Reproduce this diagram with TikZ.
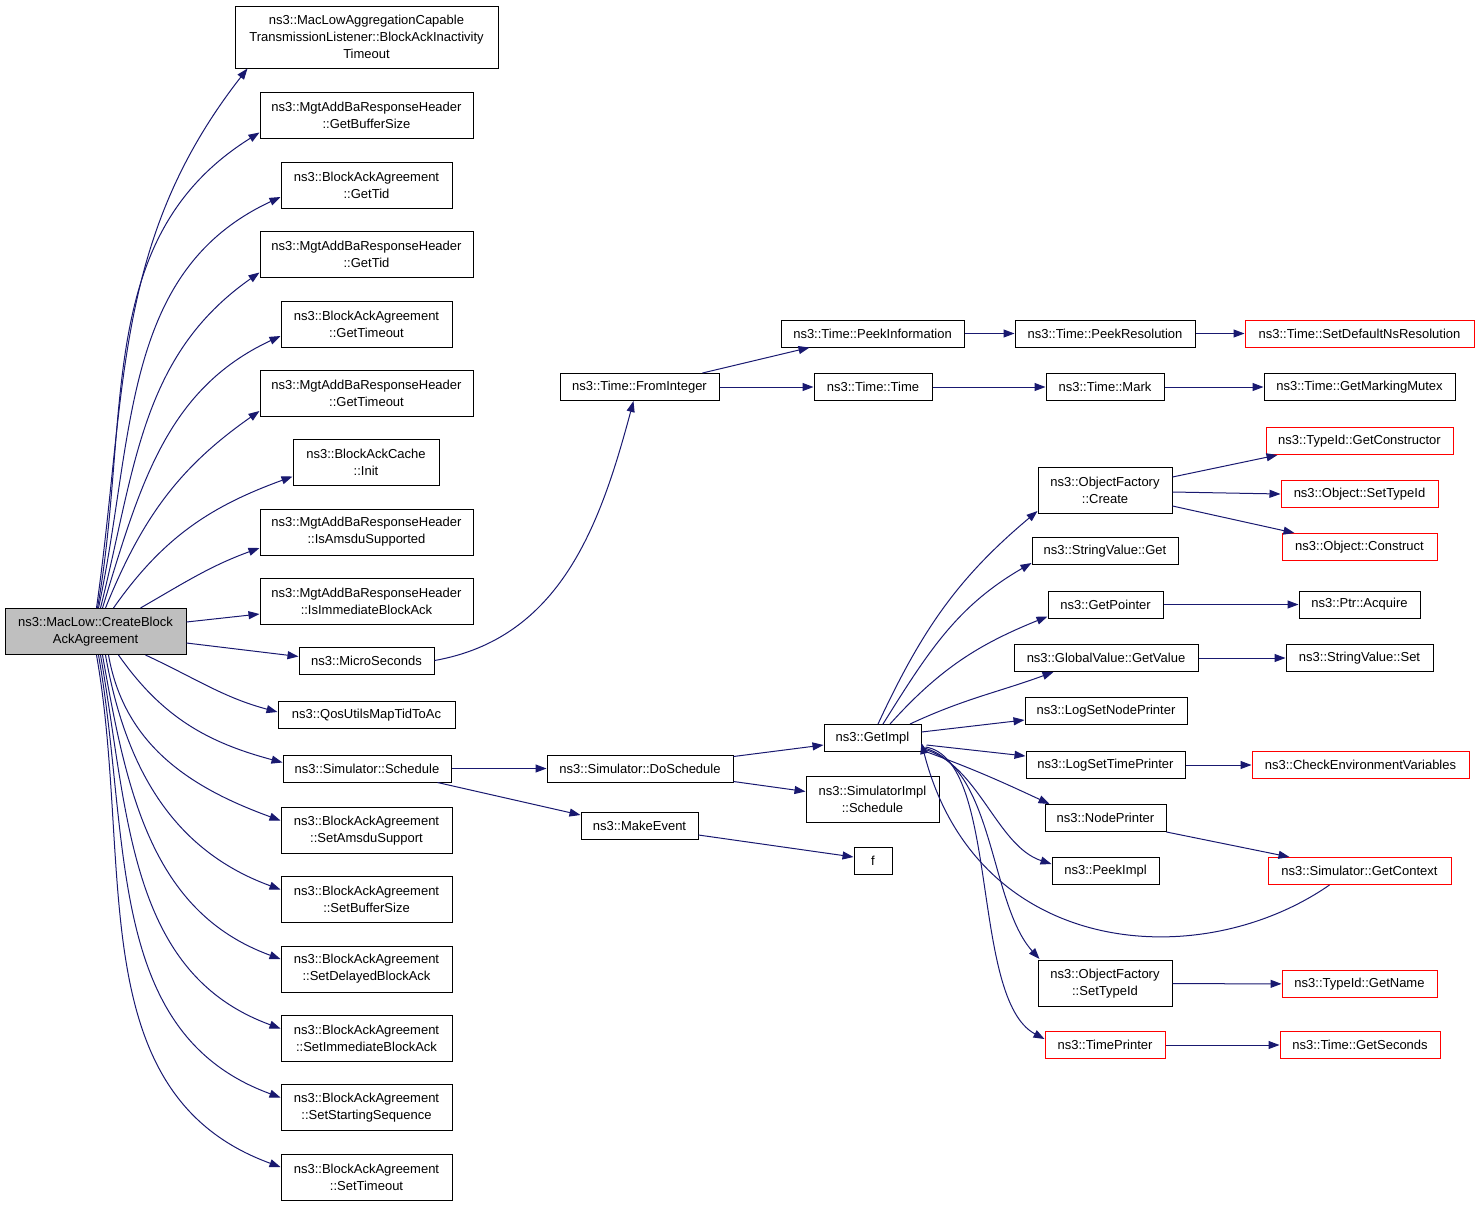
\documentclass[tikz,border=0pt]{standalone}
\usepackage{fontspec}
\setmainfont{Liberation Sans}
\usetikzlibrary{arrows.meta,calc}
\definecolor{callblue}{RGB}{25,25,112}
\definecolor{rootgray}{RGB}{191,191,191}
\tikzset{
  fn-box/.style={
    draw=black,
    fill=white,
    line width=1pt,
    rectangle,
    inner sep=0pt,
    align=center,
    minimum height=27pt,
    font=\fontsize{13}{17}\selectfont
  },
  fn-red/.style={fn-box, draw=red},
  fn-root/.style={fn-box, fill=rootgray},
  wd/.style={minimum width=#1pt},
  two/.style={minimum height=46pt},
  three/.style={minimum height=62pt},
  call/.style={draw=callblue, line width=1pt, -{Triangle[length=11pt,width=8pt]}}
}

\begin{document}
\begin{tikzpicture}[x=1pt,y=-1pt]
  \useasboundingbox (0,0) rectangle (1480,1205);

  % --- Caller ---
  \node[fn-root, wd=181, two] (root) at (95.5,631.5) {ns3::MacLow::CreateBlock\\AckAgreement};

  % --- Direct callees ---
  \node[fn-box, wd=263, three] (macl) at (366.5,37) {ns3::MacLowAggregationCapable\\TransmissionListener::BlockAckInactivity\\Timeout};
  \node[fn-box, wd=213, two] (gbs) at (366.5,115.5) {ns3::MgtAddBaResponseHeader\\::GetBufferSize};
  \node[fn-box, wd=171, two] (gtid) at (366.5,185) {ns3::BlockAckAgreement\\::GetTid};
  \node[fn-box, wd=213, two] (mgtid) at (366.5,254.5) {ns3::MgtAddBaResponseHeader\\::GetTid};
  \node[fn-box, wd=171, two] (gto) at (366.5,324) {ns3::BlockAckAgreement\\::GetTimeout};
  \node[fn-box, wd=213, two] (mgto) at (366.5,393) {ns3::MgtAddBaResponseHeader\\::GetTimeout};
  \node[fn-box, wd=146, two] (init) at (366,462.5) {ns3::BlockAckCache\\::Init};
  \node[fn-box, wd=213, two] (amsdu) at (366.5,532) {ns3::MgtAddBaResponseHeader\\::IsAmsduSupported};
  \node[fn-box, wd=213, two] (immed) at (366.5,601) {ns3::MgtAddBaResponseHeader\\::IsImmediateBlockAck};
  \node[fn-box, wd=135] (micro) at (366.5,660.5) {ns3::MicroSeconds};
  \node[fn-box, wd=177] (qos) at (366.5,715) {ns3::QosUtilsMapTidToAc};
  \node[fn-box, wd=168] (sched) at (367,768.5) {ns3::Simulator::Schedule};

  % setters of the agreement, one under the other
  \foreach \nm/\yy/\txt/\sh in {setamsdu/830.5/SetAmsduSupport/13, setbuf/899.5/SetBufferSize/10,
      setdelay/969/SetDelayedBlockAck/7, setimm/1038.5/SetImmediateBlockAck/5,
      setstart/1107.5/SetStartingSequence/3, setto/1177/SetTimeout/1} {
    \node[fn-box, wd=171, two] (\nm) at (366.5,\yy) {ns3::BlockAckAgreement\\::\txt};
    \draw[call] ($(root.south)+(\sh,0)$) to[out=-80,in=160] ($(\nm.west)+(0,-10)$);
  }

  % --- Second level ---
  \node[fn-box, wd=159] (fromint) at (639.5,387) {ns3::Time::FromInteger};
  \node[fn-box, wd=186] (dosched) at (640,768.5) {ns3::Simulator::DoSchedule};
  \node[fn-box, wd=117] (makeev) at (639.5,826) {ns3::MakeEvent};

  \node[fn-box, wd=183] (peekinfo) at (872.5,333.5) {ns3::Time::PeekInformation};
  \node[fn-box, wd=118] (timetime) at (873,387) {ns3::Time::Time};
  \node[fn-box, wd=97] (getimpl) at (872.5,738) {ns3::GetImpl};
  \node[fn-box, wd=133, two] (simimpl) at (872.5,799.5) {ns3::SimulatorImpl\\::Schedule};
  \node[fn-box, wd=38] (f) at (873,861) {f};

  % --- Third level ---
  \node[fn-box, wd=180] (peekres) at (1105,333.5) {ns3::Time::PeekResolution};
  \node[fn-box, wd=118] (mark) at (1105,387) {ns3::Time::Mark};
  \node[fn-box, wd=134, two] (ofcreate) at (1105,490) {ns3::ObjectFactory\\::Create};
  \node[fn-box, wd=146] (svget) at (1105,551) {ns3::StringValue::Get};
  \node[fn-box, wd=115] (getptr) at (1105.5,604.5) {ns3::GetPointer};
  \node[fn-box, wd=184] (gvget) at (1106,658) {ns3::GlobalValue::GetValue};
  \node[fn-box, wd=162] (lsnp) at (1106,711) {ns3::LogSetNodePrinter};
  \node[fn-box, wd=159] (lstp) at (1105.5,765) {ns3::LogSetTimePrinter};
  \node[fn-box, wd=121] (nodepr) at (1105.5,818) {ns3::NodePrinter};
  \node[fn-box, wd=107] (peekimpl) at (1105.5,871) {ns3::PeekImpl};
  \node[fn-box, wd=134, two] (ofsettid) at (1105,983.5) {ns3::ObjectFactory\\::SetTypeId};
  \node[fn-red, wd=120] (timepr) at (1105,1045) {ns3::TimePrinter};

  % --- Fourth level ---
  \node[fn-red, wd=229] (setdef) at (1359.5,333.5) {ns3::Time::SetDefaultNsResolution};
  \node[fn-box, wd=191] (mutex) at (1359.5,387) {ns3::Time::GetMarkingMutex};
  \node[fn-red, wd=187] (getctor) at (1359.5,441) {ns3::TypeId::GetConstructor};
  \node[fn-red, wd=157] (objsettid) at (1359.5,494) {ns3::Object::SetTypeId};
  \node[fn-red, wd=155] (objcons) at (1359.5,547) {ns3::Object::Construct};
  \node[fn-box, wd=121] (acquire) at (1359.5,604.5) {ns3::Ptr::Acquire};
  \node[fn-box, wd=147] (svset) at (1359.5,658) {ns3::StringValue::Set};
  \node[fn-red, wd=217] (checkenv) at (1360.5,765) {ns3::CheckEnvironmentVariables};
  \node[fn-red, wd=183] (getctx) at (1359.5,871) {ns3::Simulator::GetContext};
  \node[fn-red, wd=155] (getname) at (1359.5,984) {ns3::TypeId::GetName};
  \node[fn-red, wd=160] (getsec) at (1360,1045) {ns3::Time::GetSeconds};

  % --- Calls from the caller ---
  \draw[call] ($(root.north)+(1,0)$) to[out=82,in=232] ($(macl.south west)+(13,0)$);
  \draw[call] ($(root.north)+(2,0)$) to[out=80,in=212] ($(gbs.west)+(0,17)$);
  \draw[call] ($(root.north)+(3,0)$) to[out=78,in=205] ($(gtid.west)+(0,12)$);
  \draw[call] ($(root.north)+(5,0)$) to[out=76,in=215] ($(mgtid.west)+(0,18)$);
  \draw[call] ($(root.north)+(7,0)$) to[out=73,in=205] ($(gto.west)+(0,12)$);
  \draw[call] ($(root.north)+(10,0)$) to[out=68,in=215] ($(mgto.west)+(0,18)$);
  \draw[call] ($(root.north)+(18,0)$) to[out=55,in=200] ($(init.west)+(0,14)$);
  \draw[call] ($(root.north)+(45,0)$) to[out=30,in=200] ($(amsdu.west)+(0,16)$);
  \draw[call] ($(root.east)+(0,-9.5)$) -- ($(immed.west)+(0,13)$);
  \draw[call] ($(root.east)+(0,11.5)$) -- ($(micro.west)+(0,-4)$);
  \draw[call] ($(root.south)+(50,0)$) to[out=-25,in=165] ($(qos.west)+(0,-3)$);
  \draw[call] ($(root.south)+(23,0)$) to[out=-55,in=165] ($(sched.west)+(0,-6)$);

  % --- Time ---
  \draw[call] (micro.east) to[out=10,in=-105] ($(fromint.south)+(-6,0)$);
  \draw[call] ($(fromint.north)+(63,0)$) -- ($(peekinfo.south west)+(29,0)$);
  \draw[call] (fromint) -- (timetime);
  \draw[call] (peekinfo) -- (peekres);
  \draw[call] (peekres) -- (setdef);
  \draw[call] (timetime) -- (mark);
  \draw[call] (mark) -- (mutex);

  % --- Scheduling ---
  \draw[call] (sched) -- (dosched);
  \draw[call] ($(sched.south east)+(-14,0)$) -- ($(makeev.north west)+(0,3)$);
  \draw[call] ($(dosched.east)+(0,-12)$) -- ($(getimpl.west)+(0,7)$);
  \draw[call] ($(dosched.east)+(0,13)$) -- ($(simimpl.west)+(0,-8)$);
  \draw[call] ($(makeev.east)+(0,9)$) -- ($(f.west)+(0,-4)$);

  % --- GetImpl fan ---
  \draw[call] ($(getimpl.north)+(5.5,0)$) to[out=65,in=220] ($(ofcreate.west)+(0,21)$);
  \draw[call] ($(getimpl.north)+(10.5,0)$) to[out=58,in=210] ($(svget.west)+(0,12)$);
  \draw[call] ($(getimpl.north)+(17.5,0)$) to[out=48,in=202] ($(getptr.west)+(0,12)$);
  \draw[call] ($(getimpl.north)+(37.5,0)$) to[out=25,in=200] ($(gvget.west)+(40,14)$);
  \draw[call] ($(getimpl.east)+(0,-6)$) -- ($(lsnp.west)+(0,9)$);
  \draw[call] ($(getimpl.east)+(5,7)$) -- ($(lstp.west)+(0,-9)$);
  \draw[call] ($(getimpl.east)+(0,12)$) to[out=-20,in=155] ($(nodepr.north west)+(5,0)$);
  \draw[call] ($(getimpl.east)+(2,11)$) .. controls +(55,15) and +(-55,-18) .. ($(peekimpl.west)+(0,-7)$);
  \draw[call] ($(getimpl.east)+(3,10)$) .. controls +(70,20) and +(-50,-55) .. ($(ofsettid.north west)+(2,-1)$);
  \draw[call] ($(getimpl.east)+(4,9)$) .. controls +(75,12) and +(-75,-40) .. ($(timepr.west)+(0,-6)$);
  \draw[call] ($(getctx.south)+(-30,0)$) .. controls +(-130,90) and +(55,215) .. ($(getimpl.east)+(0,5)$);

  % --- Leaves ---
  \draw[call] ($(ofcreate.east)+(0,-13)$) -- ($(getctor.south west)+(12,0)$);
  \draw[call] ($(ofcreate.east)+(0,2)$) -- (objsettid.west);
  \draw[call] ($(ofcreate.east)+(0,16)$) -- ($(objcons.north west)+(13,0)$);
  \draw[call] (getptr) -- (acquire);
  \draw[call] (gvget) -- (svset);
  \draw[call] (lstp) -- (checkenv);
  \draw[call] ($(nodepr.east)+(0,14)$) -- ($(getctx.north west)+(22,0)$);
  \draw[call] (ofsettid) -- (getname);
  \draw[call] (timepr) -- (getsec);
\end{tikzpicture}
\end{document}
